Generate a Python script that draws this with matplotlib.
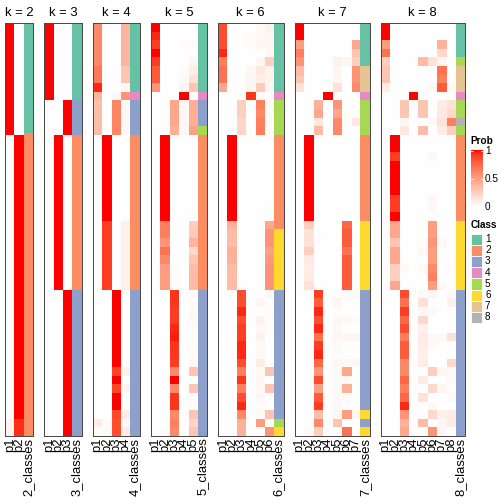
import numpy as np
import matplotlib
matplotlib.use("Agg")
import matplotlib.pyplot as plt
from matplotlib.colors import ListedColormap
from matplotlib.patches import Rectangle

plt.rcParams['font.family'] = ['Liberation Sans', 'DejaVu Sans']

# ---------------- data ----------------
ks = [2, 3, 4, 5, 6, 7, 8]
class_names = ['1', '2', '3', '4', '5', '6', '7', '8']
class_colors = ['#66C2A5', '#FC8D62', '#8DA0CB', '#E78AC3',
                '#A6D854', '#FFD92F', '#E5C494', '#B3B3B3']
prob_ticks = [0, 0.5, 1]

prob_k2 = [
    [1, 0], [1, 0], [1, 0], [1, 0], [1, 0], [1, 0], [1, 0], [1, 0], [1, 0], [1, 0], [1, 0], [1, 0], [1, 0],
    [0, 1], [0, 1], [0, 1], [0, 1], [0, 1], [0, 1], [0, 1], [0, 1], [0, 1], [0, 1], [0, 1],
    [0, 1], [0, 1], [0, 1], [0, 1], [0, 1], [0, 1], [0, 1], [0, 1], [0, 1], [0, 1], [0, 1],
    [0, 1], [0, 1], [0, 1], [0, 1], [0, 1], [0, 1], [0, 1], [0, 1], [0, 1], [0, 1], [0, 1],
    [0.06, 0.94], [0.06, 0.94],
]
prob_k3 = [
    [1, 0, 0], [1, 0, 0], [1, 0, 0], [1, 0, 0], [1, 0, 0], [1, 0, 0], [1, 0, 0], [1, 0, 0], [1, 0, 0],
    [0, 0, 1], [0, 0, 1], [0, 0, 1], [0, 0, 1],
    [0, 1, 0], [0, 1, 0], [0, 1, 0], [0, 1, 0], [0, 1, 0], [0, 1, 0], [0, 1, 0], [0, 1, 0], [0, 1, 0],
    [0, 1, 0], [0, 1, 0], [0, 1, 0], [0, 1, 0], [0, 1, 0], [0, 1, 0], [0, 1, 0], [0, 1, 0], [0, 1, 0],
    [0, 0, 1], [0, 0, 1], [0, 0, 1], [0, 0, 1], [0, 0, 1], [0, 0, 1], [0, 0, 1], [0, 0, 1], [0, 0, 1],
    [0, 0, 1], [0, 0, 1], [0, 0, 1], [0, 0, 1], [0, 0, 1], [0, 0, 1], [0, 0, 1], [0, 0, 1],
]
prob_k4 = [
    [0.6, 0, 0, 0.38], [0.6, 0, 0, 0.38], [0.6, 0, 0, 0.38], [0.6, 0, 0, 0.38], [0.6, 0, 0, 0.38],
    [0.68, 0, 0, 0.3], [0.68, 0, 0, 0.3], [0.95, 0, 0, 0.04],
    [0.38, 0, 0.03, 0.55],
    [0.33, 0, 0.62, 0.03], [0.33, 0, 0.62, 0.03], [0.33, 0, 0.62, 0.03], [0.33, 0, 0.62, 0.03],
    [0, 1, 0, 0], [0, 1, 0, 0], [0, 1, 0, 0], [0, 1, 0, 0], [0, 1, 0, 0],
    [0, 1, 0, 0], [0, 1, 0, 0], [0, 1, 0, 0], [0, 1, 0, 0], [0, 1, 0, 0],
    [0, 0.9, 0, 0.08], [0, 0.9, 0, 0.08], [0, 0.9, 0, 0.08], [0, 0.9, 0, 0.08],
    [0, 0.9, 0, 0.08], [0, 0.9, 0, 0.08], [0, 0.9, 0, 0.08], [0, 0.9, 0, 0.08],
    [0, 0, 1, 0], [0, 0, 1, 0], [0, 0, 1, 0], [0, 0, 1, 0], [0, 0, 1, 0],
    [0, 0, 1, 0], [0, 0, 1, 0], [0, 0, 1, 0], [0, 0, 1, 0],
    [0, 0, 0.88, 0.08], [0, 0, 1, 0], [0, 0, 0.88, 0.06], [0, 0, 1, 0], [0, 0, 1, 0],
    [0, 0, 0.86, 0.1], [0.1, 0.02, 0.85, 0.03], [0.02, 0.03, 0.85, 0.1],
]
prob_k5 = [
    [1, 0, 0, 0, 0], [0.95, 0, 0, 0, 0], [0.9, 0, 0, 0.02, 0.02], [1, 0, 0, 0, 0],
    [0.9, 0, 0, 0, 0.05], [0.8, 0, 0, 0.02, 0.1], [0.8, 0, 0, 0.03, 0.15], [0.55, 0, 0, 0.05, 0.3],
    [0, 0, 0, 1, 0],
    [0, 0, 0.45, 0.04, 0.42], [0, 0, 0.45, 0.04, 0.42], [0, 0, 0.45, 0.04, 0.42], [0, 0, 0.4, 0.04, 0.48],
    [0, 1, 0, 0, 0], [0, 1, 0, 0, 0], [0, 1, 0, 0, 0], [0, 1, 0, 0, 0], [0, 1, 0, 0, 0],
    [0, 1, 0, 0, 0], [0, 1, 0, 0, 0], [0, 1, 0, 0, 0], [0, 1, 0, 0, 0], [0, 1, 0, 0, 0],
    [0, 0.65, 0, 0, 0.25], [0, 0.65, 0, 0, 0.28], [0, 0.55, 0, 0, 0.38], [0, 0.7, 0, 0, 0.2],
    [0, 0.6, 0, 0, 0.3], [0, 0.5, 0.02, 0, 0.35], [0, 0.5, 0.02, 0, 0.35], [0, 0.5, 0.02, 0, 0.35],
    [0, 0, 0.92, 0, 0.03], [0, 0, 0.92, 0, 0.02], [0, 0, 0.9, 0, 0.03], [0, 0, 0.9, 0, 0.03],
    [0, 0, 0.95, 0, 0.02], [0, 0, 0.97, 0, 0.01], [0, 0, 0.92, 0, 0.02], [0, 0, 0.92, 0, 0.02],
    [0, 0, 0.9, 0, 0.04], [0, 0, 0.6, 0, 0.3], [0, 0, 1, 0, 0], [0, 0, 0.6, 0, 0.3],
    [0, 0, 0.92, 0, 0.02], [0, 0, 0.92, 0, 0.02], [0, 0, 0.6, 0, 0.3], [0, 0, 0.65, 0, 0.22],
    [0, 0.02, 0.6, 0, 0.3],
]
prob_k6 = [
    [0.85, 0, 0, 0, 0.03, 0.08], [0.85, 0, 0, 0.02, 0.03, 0.05], [0.85, 0, 0, 0.02, 0.04, 0.04],
    [0.95, 0, 0, 0, 0, 0.03], [0.65, 0, 0, 0, 0.05, 0.25], [0.7, 0, 0, 0.05, 0.12, 0.06],
    [0.7, 0, 0, 0.05, 0.1, 0.06], [0.45, 0, 0, 0.05, 0.28, 0.05],
    [0, 0, 0, 0.92, 0.03, 0],
    [0, 0, 0.25, 0, 0.65, 0.02], [0, 0, 0.25, 0, 0.6, 0.02], [0, 0, 0.2, 0, 0.65, 0.02], [0, 0, 0.22, 0, 0.65, 0],
    [0, 1, 0, 0, 0, 0], [0, 1, 0, 0, 0, 0], [0, 1, 0, 0, 0, 0], [0, 1, 0, 0, 0, 0], [0, 1, 0, 0, 0, 0],
    [0, 1, 0, 0, 0, 0], [0, 1, 0, 0, 0, 0], [0, 1, 0, 0, 0, 0], [0, 1, 0, 0, 0, 0], [0, 1, 0, 0, 0, 0],
    [0, 0.4, 0, 0, 0, 0.45],
    [0, 0.35, 0, 0, 0, 0.55], [0, 0.35, 0, 0, 0, 0.55], [0, 0.42, 0, 0, 0, 0.48], [0, 0.4, 0, 0, 0, 0.52],
    [0, 0.35, 0, 0, 0, 0.55], [0, 0.35, 0, 0, 0, 0.55], [0, 0.35, 0, 0, 0, 0.55],
    [0, 0, 0.85, 0, 0, 0.04], [0, 0, 0.85, 0, 0.05, 0], [0, 0, 0.95, 0, 0, 0.02],
    [0, 0, 0.85, 0, 0.07, 0.02], [0, 0, 0.9, 0, 0.03, 0.02], [0, 0, 0.9, 0, 0.07, 0],
    [0, 0, 0.95, 0, 0.03, 0], [0, 0, 0.95, 0, 0.03, 0], [0, 0, 0.85, 0, 0.1, 0],
    [0, 0, 0.65, 0, 0.03, 0.3], [0, 0, 0.92, 0, 0.04, 0], [0, 0, 0.65, 0, 0.03, 0.3],
    [0, 0, 0.85, 0, 0.05, 0], [0, 0, 0.95, 0, 0.02, 0], [0, 0, 0.6, 0, 0.03, 0.3],
    [0, 0, 0.4, 0, 0.5, 0.02], [0, 0, 0.4, 0, 0, 0.55],
]
prob_k7 = [
    [1, 0, 0, 0, 0, 0, 0], [1, 0, 0, 0, 0, 0, 0], [0.5, 0, 0, 0, 0, 0, 0.45], [0.65, 0, 0, 0, 0, 0, 0.3],
    [0.55, 0, 0, 0, 0.08, 0.05, 0.25],
    [0.35, 0, 0, 0, 0.05, 0, 0.55], [0.3, 0, 0, 0, 0.05, 0, 0.55], [0.15, 0, 0, 0, 0.15, 0, 0.6],
    [0, 0, 0, 1, 0, 0, 0],
    [0, 0, 0.4, 0, 0.55, 0, 0], [0, 0, 0.45, 0, 0.45, 0.02, 0], [0, 0, 0.12, 0, 0.6, 0.02, 0.12],
    [0, 0, 0.35, 0, 0.6, 0, 0],
    [0, 1, 0, 0, 0, 0, 0], [0, 1, 0, 0, 0, 0, 0], [0, 1, 0, 0, 0, 0, 0], [0, 1, 0, 0, 0, 0, 0],
    [0, 1, 0, 0, 0, 0, 0], [0, 1, 0, 0, 0, 0, 0], [0, 1, 0, 0, 0, 0, 0], [0, 1, 0, 0, 0, 0, 0],
    [0, 1, 0, 0, 0, 0, 0], [0, 1, 0, 0, 0, 0, 0],
    [0, 0.25, 0, 0, 0, 0.75, 0], [0, 0.15, 0, 0, 0, 0.8, 0], [0, 0.15, 0, 0, 0, 0.8, 0],
    [0, 0.25, 0, 0, 0, 0.7, 0], [0, 0.12, 0, 0, 0, 0.8, 0], [0, 0.1, 0, 0, 0, 0.8, 0],
    [0, 0.1, 0, 0, 0, 0.8, 0], [0, 0.15, 0, 0, 0, 0.8, 0],
    [0, 0, 0.9, 0, 0, 0.03, 0.03], [0, 0, 0.8, 0, 0.05, 0, 0], [0, 0, 0.95, 0, 0.01, 0, 0],
    [0, 0, 0.85, 0, 0.04, 0.03, 0.02], [0, 0, 0.95, 0, 0.03, 0, 0], [0, 0, 0.7, 0, 0.05, 0.05, 0.05],
    [0, 0, 0.9, 0, 0.03, 0, 0], [0, 0, 0.95, 0, 0.02, 0, 0], [0, 0, 0.75, 0, 0.05, 0.04, 0.05],
    [0, 0, 0.55, 0, 0.03, 0.45, 0], [0, 0, 0.85, 0, 0.03, 0.03, 0], [0, 0, 0.5, 0, 0.03, 0.4, 0],
    [0, 0, 0.8, 0, 0.04, 0.03, 0], [0, 0, 0.9, 0, 0.03, 0, 0], [0, 0, 0.35, 0, 0.05, 0.5, 0.05],
    [0, 0, 0.6, 0, 0.3, 0, 0], [0, 0.03, 0.25, 0, 0, 0.7, 0],
]
prob_k8 = [
    [1, 0, 0, 0, 0, 0, 0, 0], [1, 0, 0, 0, 0, 0, 0, 0], [0.5, 0, 0, 0, 0, 0, 0.4, 0],
    [0.7, 0, 0, 0, 0, 0, 0.2, 0], [0.25, 0, 0, 0, 0.35, 0.15, 0.05, 0.02],
    [0.3, 0, 0, 0, 0, 0, 0.7, 0], [0.3, 0, 0, 0, 0, 0, 0.65, 0], [0.1, 0, 0, 0, 0, 0.03, 0.8, 0.03],
    [0, 0, 0, 1, 0, 0, 0, 0],
    [0, 0, 0.3, 0, 0.3, 0, 0.1, 0.15], [0, 0, 0.3, 0, 0.3, 0, 0.12, 0.2],
    [0, 0, 0.05, 0, 0, 0.03, 0.15, 0.65], [0, 0, 0.12, 0, 0.35, 0, 0.1, 0.25],
    [0, 1, 0, 0, 0, 0, 0, 0], [0, 1, 0, 0, 0, 0, 0, 0], [0, 0.9, 0, 0, 0, 0.04, 0, 0],
    [0, 1, 0, 0, 0, 0, 0, 0], [0, 1, 0, 0, 0, 0, 0, 0], [0, 1, 0, 0, 0, 0, 0, 0],
    [0, 1, 0, 0, 0, 0, 0, 0], [0, 0.9, 0, 0, 0, 0.04, 0, 0], [0, 0.9, 0, 0, 0, 0.03, 0, 0],
    [0, 1, 0, 0, 0, 0, 0, 0],
    [0, 0.45, 0, 0, 0, 0.5, 0, 0], [0, 0.45, 0, 0, 0, 0.5, 0, 0], [0, 0.3, 0, 0, 0.02, 0.55, 0.03, 0],
    [0, 0.45, 0, 0, 0.03, 0.5, 0, 0], [0, 0.45, 0, 0, 0, 0.5, 0, 0],
    [0, 0.25, 0.03, 0, 0.03, 0.6, 0, 0.02], [0, 0.25, 0, 0, 0, 0.65, 0, 0], [0, 0.45, 0, 0, 0, 0.5, 0.03, 0],
    [0, 0, 0.85, 0, 0.03, 0.05, 0, 0.03], [0, 0, 0.7, 0, 0.15, 0, 0, 0.08], [0, 0, 0.9, 0, 0.05, 0.03, 0, 0],
    [0, 0, 0.75, 0, 0.2, 0, 0, 0], [0, 0, 0.85, 0, 0.08, 0, 0, 0], [0, 0, 0.65, 0, 0.1, 0.03, 0.03, 0.15],
    [0, 0, 0.8, 0, 0.1, 0.03, 0, 0], [0, 0, 0.8, 0, 0.08, 0, 0, 0], [0, 0, 0.6, 0, 0.1, 0, 0, 0.2],
    [0, 0, 0.6, 0, 0, 0.25, 0.05, 0.03], [0, 0, 0.75, 0, 0.1, 0, 0, 0.03], [0, 0, 0.65, 0, 0, 0.2, 0.05, 0],
    [0, 0, 0.75, 0, 0.15, 0, 0, 0.03], [0, 0, 0.95, 0, 0, 0.03, 0, 0], [0, 0, 0.55, 0, 0, 0.2, 0.08, 0.1],
    [0, 0, 0.4, 0, 0.35, 0, 0.05, 0.1], [0, 0, 0.45, 0, 0, 0.55, 0.03, 0],
]

class_k2 = [1, 1, 1, 1, 1, 1, 1, 1, 1, 1, 1, 1, 1,
            2, 2, 2, 2, 2, 2, 2, 2, 2, 2, 2, 2, 2, 2, 2, 2, 2, 2,
            2, 2, 2, 2, 2, 2, 2, 2, 2, 2, 2, 2, 2, 2, 2, 2, 2, 2]
class_k3 = [1, 1, 1, 1, 1, 1, 1, 1, 1, 3, 3, 3, 3,
            2, 2, 2, 2, 2, 2, 2, 2, 2, 2, 2, 2, 2, 2, 2, 2, 2, 2,
            3, 3, 3, 3, 3, 3, 3, 3, 3, 3, 3, 3, 3, 3, 3, 3, 3]
class_k4 = [1, 1, 1, 1, 1, 1, 1, 1, 4, 3, 3, 3, 3,
            2, 2, 2, 2, 2, 2, 2, 2, 2, 2, 2, 2, 2, 2, 2, 2, 2, 2,
            3, 3, 3, 3, 3, 3, 3, 3, 3, 3, 3, 3, 3, 3, 3, 3, 3]
class_k5 = [1, 1, 1, 1, 1, 1, 1, 1, 4, 3, 3, 3, 5,
            2, 2, 2, 2, 2, 2, 2, 2, 2, 2, 2, 2, 2, 2, 2, 2, 2, 2,
            3, 3, 3, 3, 3, 3, 3, 3, 3, 3, 3, 3, 3, 3, 3, 3, 3]
class_k6 = [1, 1, 1, 1, 1, 1, 1, 1, 4, 5, 5, 5, 5,
            2, 2, 2, 2, 2, 2, 2, 2, 2, 2, 2, 6, 6, 6, 6, 6, 6, 6,
            3, 3, 3, 3, 3, 3, 3, 3, 3, 3, 3, 3, 3, 3, 3, 5, 6]
class_k7 = [1, 1, 1, 1, 1, 7, 7, 7, 4, 5, 5, 5, 5,
            2, 2, 2, 2, 2, 2, 2, 2, 2, 2, 6, 6, 6, 6, 6, 6, 6, 6,
            3, 3, 3, 3, 3, 3, 3, 3, 3, 3, 3, 3, 3, 3, 6, 3, 6]
class_k8 = [1, 1, 1, 1, 5, 7, 7, 7, 4, 5, 5, 8, 5,
            2, 2, 2, 2, 2, 2, 2, 2, 2, 2, 6, 6, 6, 6, 6, 6, 6, 6,
            3, 3, 3, 3, 3, 3, 3, 3, 3, 3, 3, 3, 3, 3, 3, 3, 3]

probs = [prob_k2, prob_k3, prob_k4, prob_k5, prob_k6, prob_k7, prob_k8]
classes = [class_k2, class_k3, class_k4, class_k5, class_k6, class_k7, class_k8]


# ---------------- white -> red colour ramp in CIE Lab ----------------
def _srgb_to_lab(rgb):
    rgb = np.asarray(rgb, float)
    lin = np.where(rgb <= 0.04045, rgb / 12.92, ((rgb + 0.055) / 1.055) ** 2.4)
    M = np.array([[0.4124, 0.3576, 0.1805], [0.2126, 0.7152, 0.0722], [0.0193, 0.1192, 0.9505]])
    xyz = M @ lin / np.array([0.95047, 1.0, 1.08883])
    f = np.where(xyz > 0.008856, np.cbrt(xyz), 7.787 * xyz + 16 / 116)
    return np.array([116 * f[1] - 16, 500 * (f[0] - f[1]), 200 * (f[1] - f[2])])


def _lab_to_srgb(lab):
    L, a, b = lab
    fy = (L + 16) / 116
    fx = fy + a / 500
    fz = fy - b / 200
    f = np.array([fx, fy, fz])
    xyz = np.where(f ** 3 > 0.008856, f ** 3, (f - 16 / 116) / 7.787) * np.array([0.95047, 1.0, 1.08883])
    Minv = np.array([[3.2406, -1.5372, -0.4986], [-0.9689, 1.8758, 0.0415], [0.0557, -0.2040, 1.0570]])
    lin = np.clip(Minv @ xyz, 0, 1)
    srgb = np.where(lin <= 0.0031308, 12.92 * lin, 1.055 * lin ** (1 / 2.4) - 0.055)
    return np.clip(srgb, 0, 1)


lab_w = _srgb_to_lab([1, 1, 1])
lab_r = _srgb_to_lab([1, 0, 0])
ramp = [_lab_to_srgb(lab_w + t * (lab_r - lab_w)) for t in np.linspace(0, 1, 256)]
cmap = ListedColormap(ramp)

# ---------------- layout (pixels) ----------------
W = H = 504
fig = plt.figure(figsize=(7, 7), dpi=72)
cell_w = 9.37
gap = 11.08
top, bottom = 23.3, 436.0
border_col = '#4a4a4a'

left = 5.0
for k, pr, cl in zip(ks, probs, classes):
    n = len(pr)
    ncol = k + 1
    width = ncol * cell_w
    ax = fig.add_axes([left / W, 1 - bottom / H, width / W, (bottom - top) / H])
    arr = np.array(pr, float)
    ax.imshow(arr, cmap=cmap, vmin=0, vmax=1, aspect='auto', interpolation='nearest',
              extent=(-0.5, k - 0.5, n - 0.5, -0.5))
    crgb = np.array([[matplotlib.colors.to_rgb(class_colors[c - 1])] for c in cl])
    ax.imshow(crgb, aspect='auto', interpolation='nearest',
              extent=(k - 0.5, k + 0.5, n - 0.5, -0.5))
    ax.set_xlim(-0.5, k + 0.5)
    ax.set_ylim(n - 0.5, -0.5)
    ax.set_yticks([])
    ax.set_xticks(range(ncol))
    ax.set_xticklabels([f'p{i + 1}' for i in range(k)] + [f'{k}_classes'],
                       rotation=90, fontsize=13, va='top', ha='center')
    ax.tick_params(axis='x', length=0, pad=1.5)
    for s in ax.spines.values():
        s.set_color(border_col)
        s.set_linewidth(1.0)
    ax.set_title(f'k = {k}', fontsize=13, pad=7.5)
    left += width + gap

# ---------------- legends ----------------
ov = fig.add_axes([0, 0, 1, 1])
ov.set_xlim(0, W)
ov.set_ylim(H, 0)
ov.axis('off')

lx = 470.5
ov.text(lx, 144.5, 'Prob', fontsize=10, fontweight='bold', ha='left', va='baseline')
bar_top, bar_bot = 150.5, 207.5
grad = np.linspace(1, 0, 200).reshape(-1, 1)
ov.imshow(grad, cmap=cmap, vmin=0, vmax=1, aspect='auto', interpolation='bilinear',
          extent=(lx, lx + 12, bar_bot, bar_top), zorder=1)
for v in prob_ticks:
    yv = bar_bot - v * (bar_bot - bar_top)
    ov.plot([lx, lx + 2], [yv, yv], color='white', lw=0.8, zorder=2)
    ov.plot([lx + 10, lx + 12], [yv, yv], color='white', lw=0.8, zorder=2)
    ov.text(lx + 14.5, yv, f'{v:g}', fontsize=10, ha='left', va='center')
ov.set_xlim(0, W)
ov.set_ylim(H, 0)

ov.text(lx, 228.5, 'Class', fontsize=10, fontweight='bold', ha='left', va='baseline')
box = 11.2
y0 = 233.5
for i, (nm, col) in enumerate(zip(class_names, class_colors)):
    yy = y0 + i * box
    ov.add_patch(Rectangle((lx, yy), box, box, facecolor=col, edgecolor='white', lw=0.8))
    ov.text(lx + 14.5, yy + box / 2, nm, fontsize=10, ha='left', va='center')

fig.savefig('out.png', dpi=72)
